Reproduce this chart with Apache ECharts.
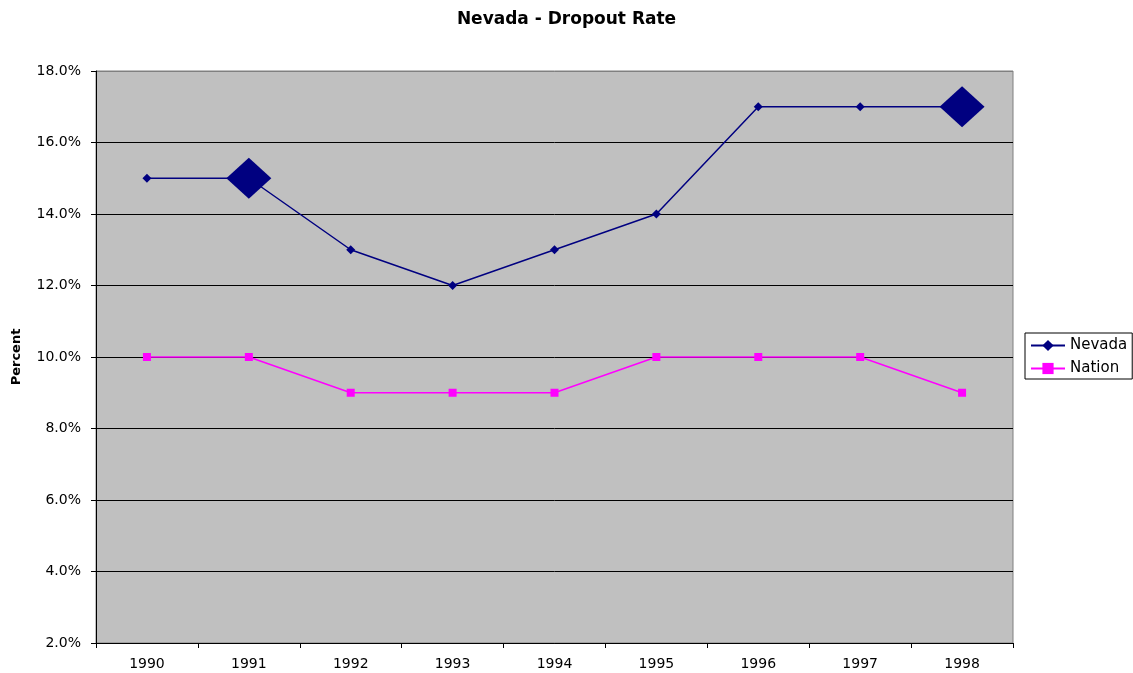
<!DOCTYPE html>
<html>
<head>
<meta charset="utf-8">
<script src="https://cdn.jsdelivr.net/npm/echarts@6/dist/echarts.min.js"></script>
<style>html,body{margin:0;padding:0;background:#fff;}#c{width:1133px;height:673px;}</style>
</head>
<body>
<div id="c"></div>
<script>
const years = ['1990','1991','1992','1993','1994','1995','1996','1997','1998'];
const nevada = [15, 15, 13, 12, 13, 14, 17, 17, 17];
const nation = [10, 10, 9, 9, 9, 10, 10, 10, 9];
const highlighted = [1, 8];

const chart = echarts.init(document.getElementById('c'), null, {renderer: 'canvas'});
const font = 'DejaVu Sans, sans-serif';
const splitColors = ['#000','#000','#000','#000','#000','#000','#000','#000','#808080'];
chart.setOption({
  animation: false,
  backgroundColor: '#ffffff',
  title: {
    text: 'Nevada - Dropout Rate',
    left: 'center', top: 6,
    textStyle: {fontFamily: font, fontSize: 17, fontWeight: 'bold', color: '#000'}
  },
  legend: {
    orient: 'vertical',
    left: 1025, top: 333,
    padding: [5, 5, 3, 5],
    itemGap: 8,
    itemWidth: 34, itemHeight: 14,
    borderColor: '#000', borderWidth: 1,
    backgroundColor: '#fff',
    textStyle: {fontFamily: font, fontSize: 15, color: '#000'},
    data: ['Nevada', 'Nation']
  },
  grid: {
    left: 96, right: 120, top: 71, bottom: 30,
    outerBoundsMode: 'none',
    containLabel: false,
    show: true, backgroundColor: '#C0C0C0', borderColor: '#808080', borderWidth: 1
  },
  xAxis: {
    type: 'category',
    data: years,
    boundaryGap: true,
    axisLine: {lineStyle: {color: '#000', width: 1}},
    axisTick: {show: true, inside: false, length: 5, lineStyle: {color: '#000'}},
    axisLabel: {fontFamily: font, fontSize: 14, color: '#000', margin: 14}
  },
  yAxis: {
    type: 'value',
    min: 2, max: 18, interval: 2,
    name: 'Percent',
    nameLocation: 'middle',
    nameGap: 73,
    nameTextStyle: {fontFamily: font, fontSize: 13, fontWeight: 'bold', color: '#000'},
    axisLine: {show: true, lineStyle: {color: '#000', width: 1}},
    axisTick: {show: true, inside: false, length: 5, lineStyle: {color: '#000'}},
    axisLabel: {fontFamily: font, fontSize: 14, color: '#000', margin: 15,
      formatter: v => v.toFixed(1) + '%'},
    splitLine: {show: true, lineStyle: {color: splitColors, width: 1}}
  },
  series: [
    {
      name: 'Nevada',
      type: 'line',
      data: nevada,
      symbol: 'diamond',
      symbolSize: (v, p) => highlighted.includes(p.dataIndex) ? [45, 41] : [9, 9],
      itemStyle: {color: '#000080'},
      lineStyle: {color: '#000080', width: 1.5},
      z: 3
    },
    {
      name: 'Nation',
      type: 'line',
      data: nation,
      symbol: 'rect',
      symbolSize: 8,
      itemStyle: {color: '#FF00FF'},
      lineStyle: {color: '#FF00FF', width: 1.5},
      z: 2
    }
  ]
});
</script>
</body>
</html>
